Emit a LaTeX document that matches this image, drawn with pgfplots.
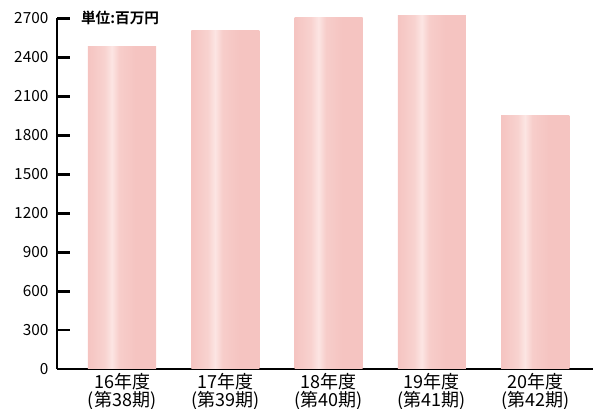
\documentclass[border=0pt]{standalone}
\usepackage{fontspec}
\setmainfont{Noto Sans CJK JP}
\newfontfamily\jpbold[BoldFont={Noto Sans CJK JP Bold}]{Noto Sans CJK JP}
\usepackage{pgfplots}
\pgfplotsset{compat=1.18}

\definecolor{barbase}{RGB}{245,196,193}
\definecolor{barrise}{RGB}{248,210,207}
\definecolor{barlight}{RGB}{252,229,227}
\definecolor{barmid}{RGB}{247,205,202}

% horizontal sheen across each bar (bar spans 25bp..75bp of the shading)
\pgfdeclarehorizontalshading{barsheen}{100bp}{%
  color(0bp)=(barbase); color(25bp)=(barbase);
  color(37bp)=(barrise); color(42.5bp)=(barlight); color(48bp)=(barmid);
  color(60bp)=(barbase); color(75bp)=(barbase); color(100bp)=(barbase)}

\pgfplotsset{sheenbar/.style={ybar, bar width=0.66, bar shift=0pt, draw=none, shading=barsheen}}

\begin{document}
\begin{tikzpicture}
\useasboundingbox (0,0) rectangle (444.75pt,306.75pt);
\begin{axis}[
  at={(42.75pt,30pt)}, anchor=south west,
  scale only axis,
  width=402pt, height=263pt,
  xmin=-0.63, xmax=4.56,
  ymin=0, ymax=2700,
  axis x line=bottom, axis y line=left,
  axis line style={line width=2.2pt, -},
  ytick={0,300,...,2700},
  ytick style={line width=2.2pt, black},
  major tick length=10pt,
  tick align=inside,
  xtick={0,1,2,3,4},
  xtick style={draw=none},
  xticklabels={{16年度\\(第38期)},{17年度\\(第39期)},{18年度\\(第40期)},{19年度\\(第41期)},{20年度\\(第42期)}},
  xticklabel style={align=center, font=\fontsize{13.5}{12.5}\selectfont, inner sep=1pt, yshift=-2pt},
  yticklabel style={font=\fontsize{11.5}{12}\selectfont, xshift=-3pt},
  /pgf/number format/assume math mode=true,
  /pgf/number format/1000 sep={},
  clip=false,
]
\addplot[sheenbar] coordinates {(0,2480)};
\addplot[sheenbar] coordinates {(1,2610)};
\addplot[sheenbar] coordinates {(2,2710)};
\addplot[sheenbar] coordinates {(3,2718)};
\addplot[sheenbar] coordinates {(4,1955)};
\node[anchor=west, font=\jpbold\bfseries\fontsize{11}{12}\selectfont, inner sep=0pt]
  at (axis cs:-0.4,2700) {単位:百万円};
\end{axis}
\end{tikzpicture}
\end{document}
